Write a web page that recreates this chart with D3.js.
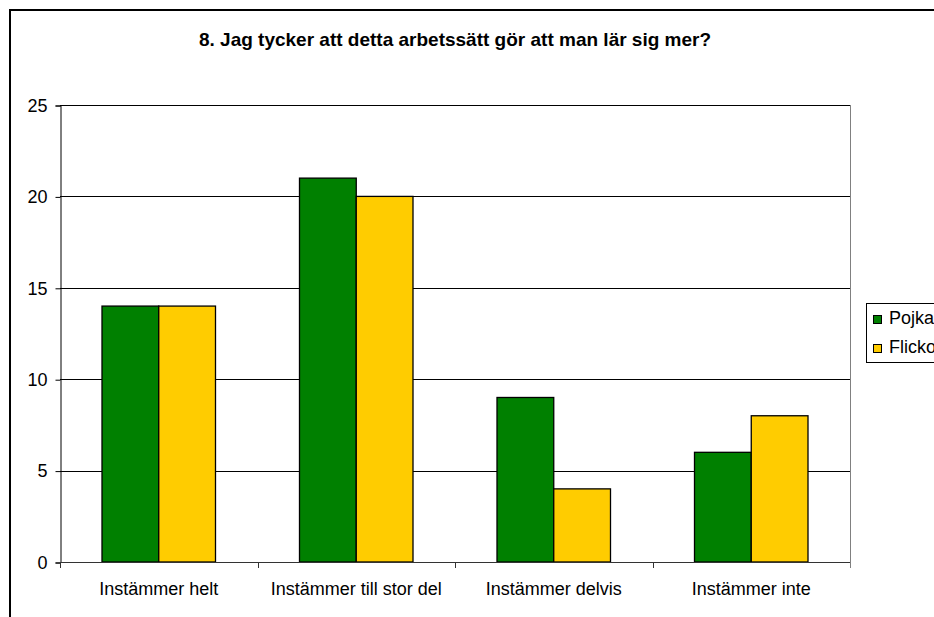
<!DOCTYPE html>
<html>
<head>
<meta charset="utf-8">
<script src="https://cdn.jsdelivr.net/npm/d3@7"></script>
<style>
  body { margin: 0; background: #fff; }
  svg text { font-family: "Liberation Sans", Arial, sans-serif; fill: #000; }
</style>
</head>
<body>
<div id="chart"></div>
<script>
var categories = ['Instämmer helt', 'Instämmer till stor del', 'Instämmer delvis', 'Instämmer inte']
var seriesNames = ['Pojkar', 'Flickor']
var pojkar = [14, 21, 9, 6]
var flickor = [14, 20, 4, 8]
var yTicks = [0, 5, 10, 15, 20, 25]
var titleText = '8. Jag tycker att detta arbetssätt gör att man lär sig mer?'

var width = 934, height = 617
var plot = { left: 60, top: 105, right: 850, bottom: 562 }
var colors = ['#008000', '#FFCC00']

var svg = d3.select('#chart').append('svg')
  .attr('width', width)
  .attr('height', height)

// outer chart border (cropped at right and bottom)
svg.append('rect')
  .attr('x', 10).attr('y', 10)
  .attr('width', 1000).attr('height', 700)
  .attr('fill', '#fff')
  .attr('stroke', '#000')
  .attr('stroke-width', 2)

svg.append('text')
  .attr('x', 455)
  .attr('y', 46)
  .attr('text-anchor', 'middle')
  .attr('font-size', '19px')
  .attr('font-weight', 'bold')
  .text(titleText)

var x0 = d3.scaleBand()
  .domain(categories)
  .range([plot.left, plot.right])

var x1 = d3.scaleBand()
  .domain(seriesNames)
  .range([0, 113.5])

var y = d3.scaleLinear()
  .domain([0, 25])
  .range([plot.bottom, plot.top])

// gridlines
svg.selectAll('.grid')
  .data(yTicks.filter(function(d) { return d > 0 }))
  .enter().append('line')
  .attr('class', 'grid')
  .attr('x1', plot.left).attr('x2', plot.right)
  .attr('y1', function(d) { return Math.round(y(d)) + 0.5 })
  .attr('y2', function(d) { return Math.round(y(d)) + 0.5 })
  .attr('stroke', '#000')
  .attr('stroke-width', 1)

// plot area right edge
svg.append('line')
  .attr('x1', plot.right + 0.5).attr('x2', plot.right + 0.5)
  .attr('y1', plot.top).attr('y2', plot.bottom)
  .attr('stroke', '#808080')

var data = categories.map(function(c, i) {
  return { cat: c, values: [
    { name: seriesNames[0], value: pojkar[i], color: colors[0] },
    { name: seriesNames[1], value: flickor[i], color: colors[1] }
  ] }
})

var groups = svg.selectAll('.group')
  .data(data)
  .enter().append('g')
  .attr('class', 'group')
  .attr('transform', function(d) {
    return 'translate(' + (x0(d.cat) + x0.bandwidth() / 2 - 56.75) + ',0)'
  })

groups.selectAll('rect')
  .data(function(d) { return d.values })
  .enter().append('rect')
  .attr('x', function(d) { return x1(d.name) })
  .attr('y', function(d) { return y(d.value) })
  .attr('width', x1.bandwidth())
  .attr('height', function(d) { return y(0) - y(d.value) })
  .attr('fill', function(d) { return d.color })
  .attr('stroke', '#000')
  .attr('stroke-width', 1.3)

// y axis
var yAxis = d3.axisLeft(y)
  .tickValues(yTicks)
  .tickSize(5)
  .tickPadding(8)
  .tickFormat(d3.format('d'))

var yg = svg.append('g')
  .attr('transform', 'translate(' + (plot.left + 0.5) + ',0.5)')
  .call(yAxis)
yg.select('.domain').attr('stroke', '#000')
yg.selectAll('.tick line').attr('stroke', '#000')
yg.selectAll('text')
  .attr('font-size', '18px')
  .attr('font-family', '"Liberation Sans", Arial, sans-serif')

// x axis
var boundaries = categories.map(function(c) { return x0(c) }).concat([plot.right])
var xg = svg.append('g')
xg.append('line')
  .attr('x1', plot.left).attr('x2', plot.right)
  .attr('y1', plot.bottom + 0.5).attr('y2', plot.bottom + 0.5)
  .attr('stroke', '#333')
xg.selectAll('.xtick')
  .data(boundaries)
  .enter().append('line')
  .attr('x1', function(d) { return Math.round(d) + 0.5 })
  .attr('x2', function(d) { return Math.round(d) + 0.5 })
  .attr('y1', plot.bottom).attr('y2', plot.bottom + 6)
  .attr('stroke', function(d, i) { return i === boundaries.length - 1 ? '#808080' : '#333' })
xg.selectAll('.xlabel')
  .data(categories)
  .enter().append('text')
  .attr('x', function(d) { return x0(d) + x0.bandwidth() / 2 })
  .attr('y', 595)
  .attr('text-anchor', 'middle')
  .attr('font-size', '18px')
  .text(function(d) { return d })

// legend (cropped by the window edge)
svg.append('rect')
  .attr('x', 866.5).attr('y', 303.5)
  .attr('width', 100).attr('height', 59)
  .attr('fill', '#fff')
  .attr('stroke', '#000')
var items = svg.selectAll('.legend-item')
  .data(seriesNames)
  .enter().append('g')
  .attr('class', 'legend-item')
  .attr('transform', function(d, i) { return 'translate(873,' + (315 + i * 29) + ')' })
items.append('rect')
  .attr('x', 0.5).attr('y', 0.5)
  .attr('width', 8).attr('height', 8)
  .attr('fill', function(d, i) { return colors[i] })
  .attr('stroke', '#000')
items.append('text')
  .attr('x', 16)
  .attr('y', 9)
  .attr('font-size', '18px')
  .text(function(d) { return d })
</script>
</body>
</html>
